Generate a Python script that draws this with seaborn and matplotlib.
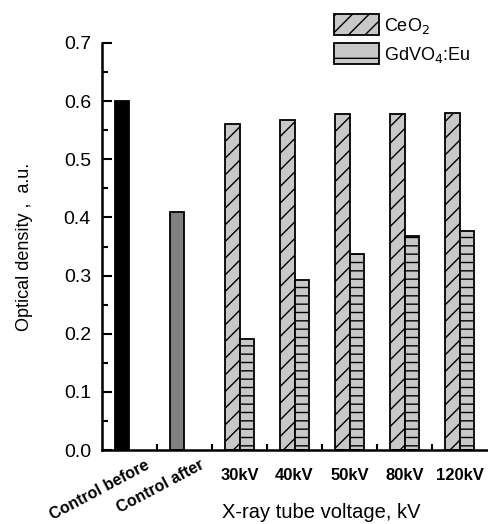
import matplotlib
matplotlib.use("Agg")
import matplotlib.pyplot as plt
import matplotlib.transforms as mtrans
from matplotlib.patches import Patch
from matplotlib.ticker import MultipleLocator, FixedLocator
import seaborn as sns
import pandas as pd

categories = ["Control before", "Control after", "30kV", "40kV", "50kV", "80kV", "120kV"]
control_values = [0.600, 0.409]
ceo2_values = [0.561, 0.568, 0.578, 0.578, 0.580]
gdvo4_values = [0.191, 0.293, 0.337, 0.368, 0.377]
series = ["CeO$_2$", "GdVO$_4$:Eu"]

rows = []
for c, v in zip(categories[:2], control_values):
    rows.append({"cat": c, "slot": "A", "value": v})
for c, v in zip(categories[2:], ceo2_values):
    rows.append({"cat": c, "slot": "A", "value": v})
for c, v in zip(categories[2:], gdvo4_values):
    rows.append({"cat": c, "slot": "B", "value": v})
df = pd.DataFrame(rows)

sns.set_style("ticks")
plt.rcParams["font.family"] = ["Liberation Sans", "DejaVu Sans"]
plt.rcParams["hatch.linewidth"] = 1.0
for k in ["text.color", "axes.labelcolor", "xtick.color", "ytick.color", "axes.edgecolor"]:
    plt.rcParams[k] = "black"

fig = plt.figure(figsize=(4.88, 5.24), dpi=100)
ax = fig.add_axes([0.209, 0.141, 0.789, 0.777])

sns.barplot(data=df, x="cat", y="value", hue="slot", order=categories,
            hue_order=["A", "B"], width=0.51, dodge=True, ax=ax,
            legend=False, edgecolor="black", linewidth=1.3)

fill = "#c8c8c8"
bars_a = ax.containers[0]
bars_b = ax.containers[1]
for i, p in enumerate(bars_a):
    if i == 0:
        p.set_facecolor("black")
    elif i == 1:
        p.set_facecolor("#808080")
    else:
        p.set_facecolor(fill)
        p.set_hatch("//")
for p in bars_b:
    p.set_facecolor(fill)
    p.set_hatch("--")

ax.set_xlim(-0.5, 6.5)
ax.set_ylim(0, 0.7)
ax.yaxis.set_major_locator(MultipleLocator(0.1))
ax.yaxis.set_minor_locator(MultipleLocator(0.05))
ax.set_yticks([0.0, 0.1, 0.2, 0.3, 0.4, 0.5, 0.6, 0.7])
ax.set_yticklabels(["0.0", "0.1", "0.2", "0.3", "0.4", "0.5", "0.6", "0.7"])
ax.tick_params(axis="y", which="major", direction="in", length=7, width=1.5, labelsize=14, pad=8,
               colors="black")
ax.tick_params(axis="y", which="minor", direction="in", length=4, width=1.5, colors="black")
ax.xaxis.set_minor_locator(FixedLocator([0.5, 1.5, 2.5, 3.5, 4.5, 5.5]))
ax.tick_params(axis="x", which="major", length=0, pad=13, labelsize=12, colors="black")
ax.tick_params(axis="x", which="minor", direction="in", length=4, width=1.5, colors="black")
sns.despine(ax=ax)
for s in ["left", "bottom"]:
    ax.spines[s].set_linewidth(1.8)
    ax.spines[s].set_color("black")

ax.set_xticks(range(len(categories)))
ax.set_xticklabels(categories, fontweight="bold", fontsize=12)
for i, t in enumerate(ax.get_xticklabels()):
    if i < 2:
        t.set_fontsize(11.5)
        t.set_rotation(28)
        t.set_rotation_mode("anchor")
        t.set_ha("right")
        t.set_va("top")
        t.set_transform(t.get_transform() + mtrans.ScaledTranslation(0.15, 0.11, fig.dpi_scale_trans))

ax.set_xlabel("X-ray tube voltage, kV", fontsize=14.5, color="black")
ax.xaxis.set_label_coords(0.57, -0.13)
ax.set_ylabel("Optical density ,  a.u.", fontsize=13, color="black")
ax.yaxis.set_label_coords(-0.18, 0.5)

handles = [Patch(facecolor=fill, edgecolor="black", hatch="//", linewidth=1.3, label=series[0]),
           Patch(facecolor=fill, edgecolor="black", hatch="-", linewidth=1.3, label=series[1])]
leg = ax.legend(handles=handles, loc="upper right", bbox_to_anchor=(1.0, 1.11), frameon=False,
                fontsize=13, handlelength=2.5, handleheight=1.4, handletextpad=0.3, labelspacing=0.4)
for t in leg.get_texts():
    t.set_color("black")

fig.savefig("out.png", dpi=100)
